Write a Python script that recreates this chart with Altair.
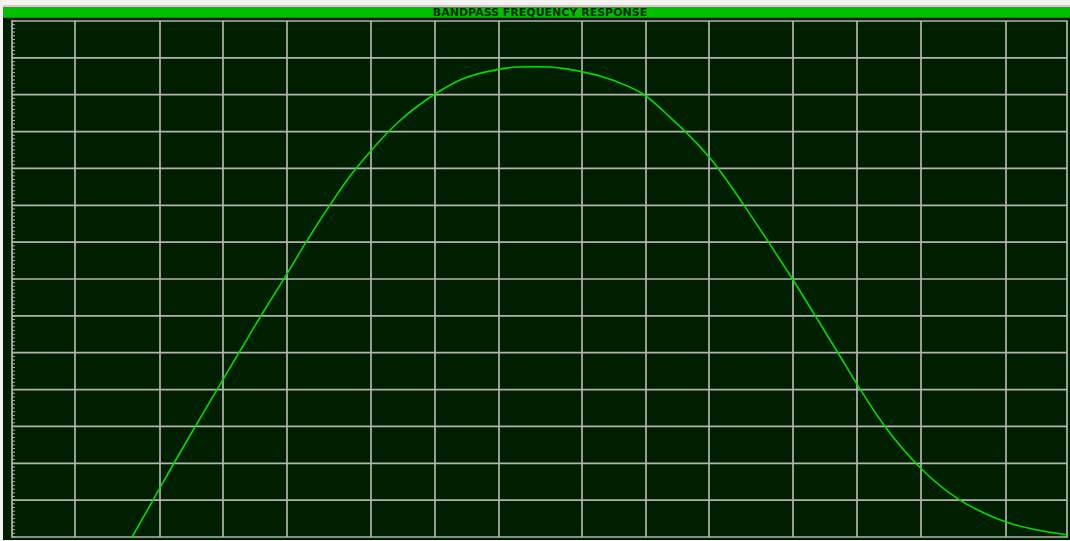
import altair as alt
import pandas as pd

TITLE = "BANDPASS FREQUENCY RESPONSE"

# Response curve: frequency in display bins (0..1055), level in minor divisions (0..140)
freq = [120, 141, 161, 182, 205, 226, 248, 274, 295, 318, 336, 359, 373, 388,
        405, 423, 448, 485, 505, 523, 538, 555, 570, 588, 615, 631, 660, 671,
        698, 730, 755, 780, 801, 825, 846, 873, 909, 948, 973, 995, 1018, 1038, 1055]
level = [0.0, 10.0, 19.6, 29.4, 40.0, 49.6, 59.6, 71.0, 80.4, 90.1, 97.2, 104.8,
         109.0, 113.0, 116.8, 120.2, 124.0, 126.8, 127.5, 127.6, 127.5, 127.0,
         126.2, 125.1, 122.4, 120.2, 113.4, 110.6, 102.8, 90.8, 80.6, 70.2, 61.0,
         50.4, 41.0, 30.0, 18.6, 10.0, 6.4, 4.0, 2.3, 1.3, 0.6]

# Graticule positions
grid_x = [63, 148, 211, 275, 359, 423, 487, 570, 634, 697, 781, 845, 909, 994]
grid_y = [10, 20, 30, 40, 50, 60, 70, 80, 90, 100, 110, 120, 130]
minor_y = list(range(0, 141))

W, H = 1055, 516
BG = "#001e00"
GRID = "#b4b4ae"

curve = pd.DataFrame({"freq": freq, "level": level})

xs = alt.Scale(domain=[0, 1055], nice=False, zero=False)
ys = alt.Scale(domain=[0, 140], nice=False, zero=False)

vlines = alt.Chart(pd.DataFrame({"g": grid_x})).mark_rule(color=GRID, strokeWidth=1.7).encode(
    x=alt.X("g:Q", scale=xs, axis=None))
hlines = alt.Chart(pd.DataFrame({"g": grid_y})).mark_rule(color=GRID, strokeWidth=1.7).encode(
    y=alt.Y("g:Q", scale=ys, axis=None))

minor = alt.Chart(pd.DataFrame({"m": minor_y})).mark_rule(color=GRID, strokeWidth=1).encode(
    y=alt.Y("m:Q", scale=ys, axis=None),
    x=alt.value(0),
    x2=alt.value(3),
)

line = alt.Chart(curve).mark_line(color="#00dc00", strokeWidth=1.6, interpolate="monotone").encode(
    x=alt.X("freq:Q", scale=xs, axis=None),
    y=alt.Y("level:Q", scale=ys, axis=None),
)

frame = pd.DataFrame({"t": [TITLE]})

# light page edges around the instrument panel
top_light = alt.Chart(frame).mark_rect(color="#f2f2ee").encode(
    x=alt.value(-12), x2=alt.value(W + 3), y=alt.value(-21), y2=alt.value(-16))
top_band = alt.Chart(frame).mark_rect(color="#cfcfc6").encode(
    x=alt.value(-12), x2=alt.value(W + 3), y=alt.value(-16), y2=alt.value(-14))
left_light = alt.Chart(frame).mark_rect(color="#f2f2ee").encode(
    x=alt.value(-12), x2=alt.value(-9), y=alt.value(-21), y2=alt.value(H + 4))
bottom_light = alt.Chart(frame).mark_rect(color="#f2f2ee").encode(
    x=alt.value(-12), x2=alt.value(W + 3), y=alt.value(H + 3), y2=alt.value(H + 4))

title_bar = alt.Chart(frame).mark_rect(color="#00c000").encode(
    x=alt.value(-9), x2=alt.value(W + 3), y=alt.value(-14), y2=alt.value(-4))
title_edge = alt.Chart(frame).mark_rect(color="#009000").encode(
    x=alt.value(-9), x2=alt.value(W + 3), y=alt.value(-4), y2=alt.value(-3))
title_text = alt.Chart(frame).mark_text(
    font="DejaVu Sans", fontSize=11, fontWeight="bold", color="#002a00",
    align="center", baseline="middle",
).encode(text="t:N", x=alt.value(528), y=alt.value(-8.5))

chart = alt.layer(
    top_light, top_band, left_light, bottom_light, title_bar, title_edge, title_text,
    vlines, hlines, minor, line,
).properties(
    width=W, height=H,
    background=BG,
    padding={"left": 12, "top": 21, "right": 3, "bottom": 4},
    autosize=alt.AutoSizeParams(type="none"),
).configure_view(
    fill=BG, stroke=GRID, strokeWidth=1.7,
)

chart.save("out.html", embed_options={"renderer": "svg", "actions": False})
